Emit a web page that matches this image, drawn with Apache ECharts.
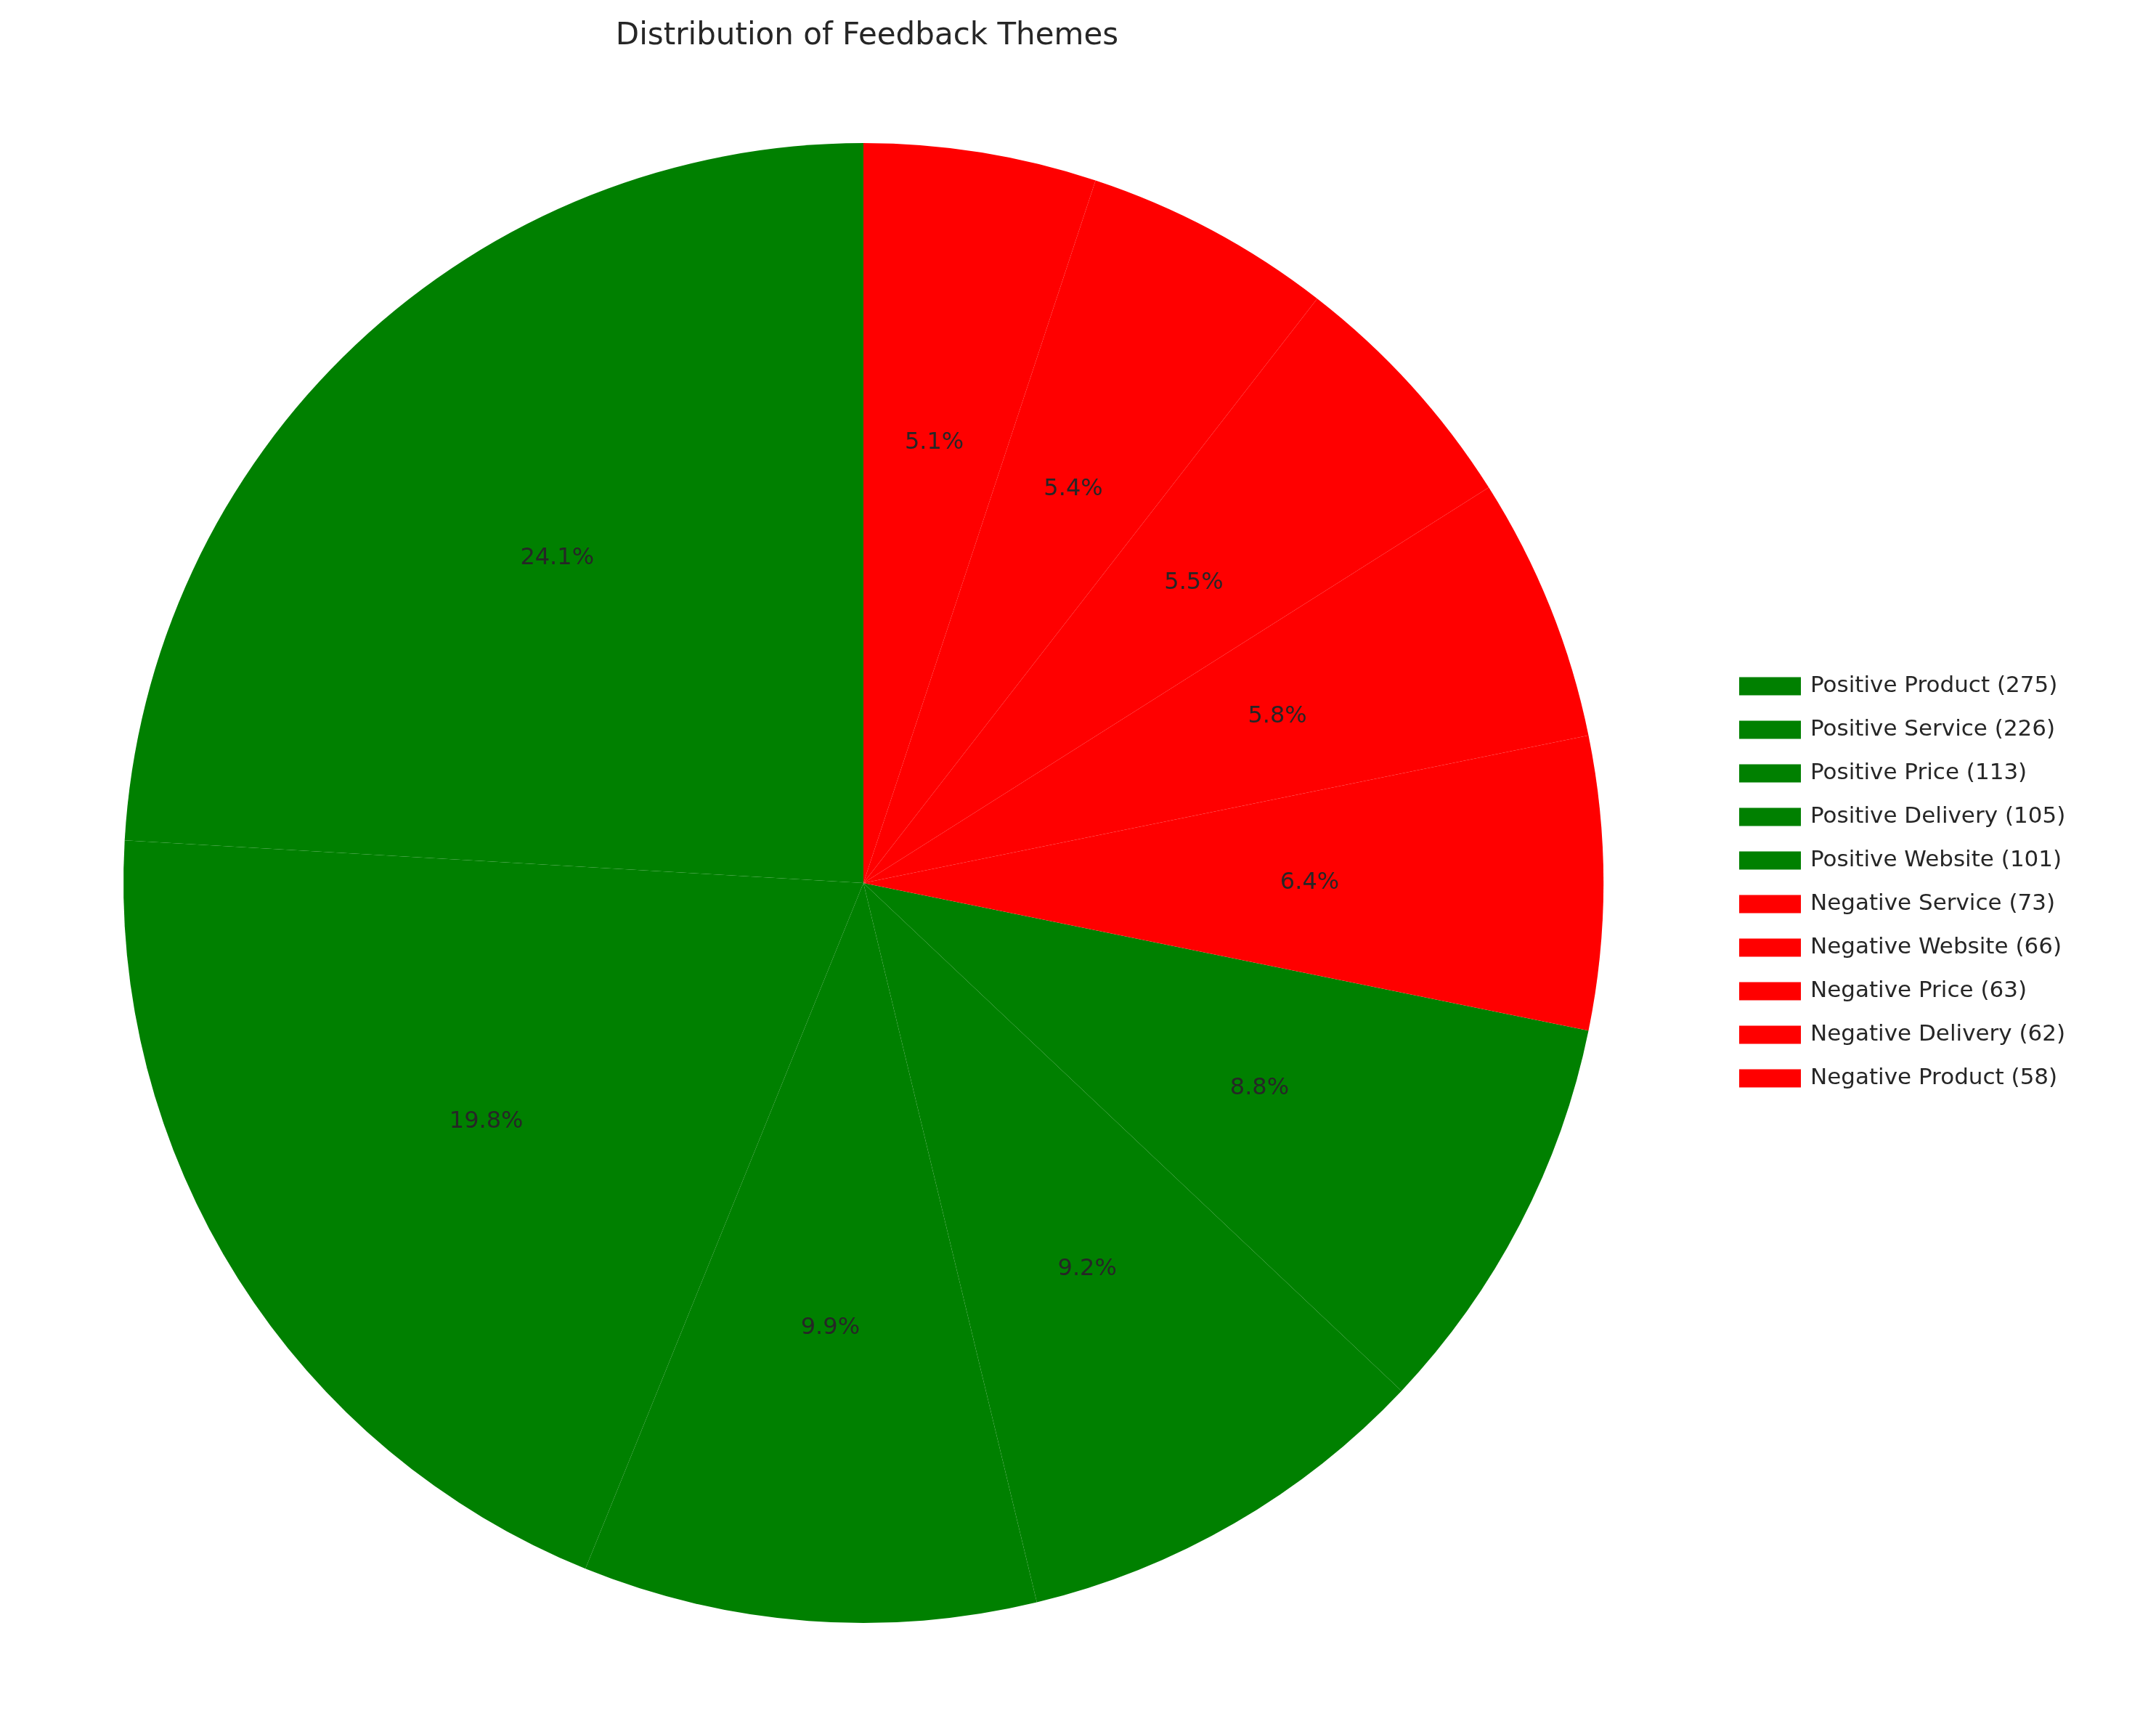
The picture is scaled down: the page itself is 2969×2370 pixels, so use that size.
<!DOCTYPE html>
<html><head><meta charset="utf-8">
<script src="https://cdn.jsdelivr.net/npm/echarts@6/dist/echarts.min.js"></script>
<style>html,body{margin:0;padding:0;background:#fff}#c{width:2969px;height:2370px}</style>
</head><body><div id="c"></div>
<script>
const categories = ["Positive Product","Positive Service","Positive Price","Positive Delivery","Positive Website","Negative Service","Negative Website","Negative Price","Negative Delivery","Negative Product"];
const values = [275,226,113,105,101,73,66,63,62,58];
const colors = ["green","green","green","green","green","red","red","red","red","red"];
const total = values.reduce((a,b)=>a+b,0);
const data = categories.map((c,i)=>({name:c,value:values[i],itemStyle:{color:colors[i]}}));
const chart = echarts.init(document.getElementById('c'));
const center = [1189,1216];
chart.setOption({
  animation:false,
  title:{text:'Distribution of Feedback Themes',left:1189,top:24,textAlign:'center',
    textStyle:{fontFamily:'DejaVu Sans',fontSize:42,fontWeight:'normal',color:'#262626'}},
  legend:{orient:'vertical',left:2390,top:922,itemWidth:85,itemHeight:25,itemGap:24,icon:'rect',
    data:categories,
    formatter:n=>n+' ('+values[categories.indexOf(n)]+')',
    textStyle:{fontFamily:'DejaVu Sans',fontSize:31,color:'#262626',lineHeight:36,padding:[0,0,0,8]}},
  series:[
    {type:'pie',center:center,radius:[0,1019],startAngle:90,clockwise:false,label:{show:false},
     labelLine:{show:false},emphasis:{disabled:true},data:data},
    {type:'pie',center:center,radius:[0,1223],startAngle:90,clockwise:false,silent:true,z:5,
     itemStyle:{color:'rgba(0,0,0,0)'},emphasis:{disabled:true},
     label:{show:true,position:'inside',fontFamily:'DejaVu Sans',fontSize:32,color:'#262626',
       formatter:p=>(p.value/total*100).toFixed(1)+'%'},
     data:categories.map((c,i)=>({name:c,value:values[i]}))}
  ]
});
</script></body></html>
